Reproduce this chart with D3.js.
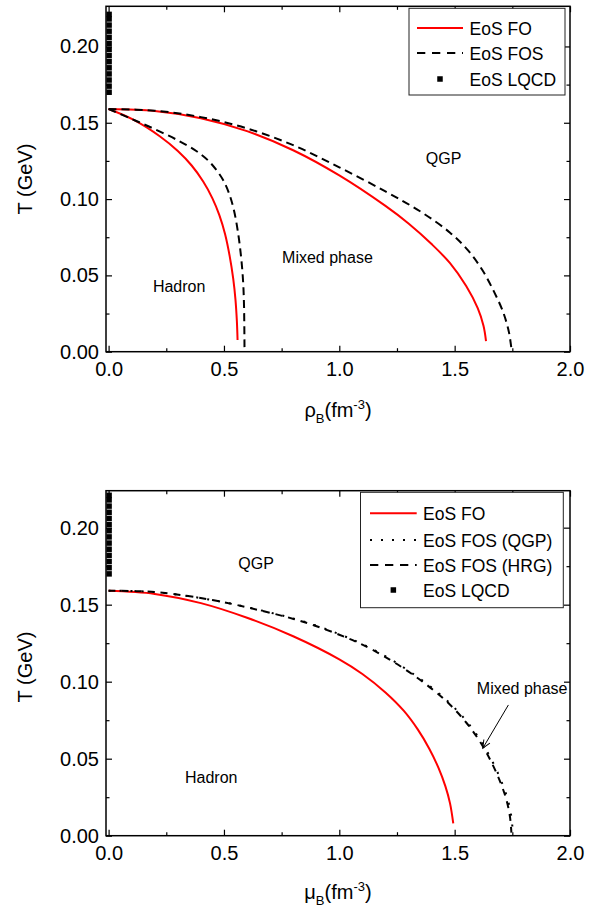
<!DOCTYPE html>
<html><head><meta charset="utf-8">
<script src="https://cdn.jsdelivr.net/npm/d3@7"></script>
<style>body{margin:0;background:#fff}svg{display:block}text{font-family:"Liberation Sans",Arial,sans-serif}</style>
</head><body>
<script>
// ---------- data ----------
const xTicks = [0, 0.5, 1.0, 1.5, 2.0];
const xMinor = [0.25, 0.75, 1.25, 1.75];
const yTicks = [0, 0.05, 0.10, 0.15, 0.20];
const yMinor = [0.025, 0.075, 0.125, 0.175];

// top panel: T vs rho_B
const topFO_inner_rho = [0, 0.107, 0.223, 0.30, 0.36, 0.41, 0.45, 0.48, 0.505, 0.525, 0.54, 0.55, 0.556, 0.559];
const topFO_inner_T   = [0.159, 0.152, 0.141, 0.1315, 0.122, 0.1115, 0.1005, 0.0895, 0.077, 0.0625, 0.048, 0.034, 0.020, 0.0077];
const topFOS_inner_rho = [0, 0.1, 0.2, 0.3, 0.38, 0.43, 0.47, 0.5, 0.525, 0.545, 0.562, 0.575, 0.583, 0.587, 0.589];
const topFOS_inner_T   = [0.159, 0.1525, 0.1458, 0.1385, 0.1315, 0.1255, 0.1185, 0.1115, 0.1025, 0.0915, 0.077, 0.061, 0.046, 0.030, 0.003];
const topFO_outer_rho = [0, 0.2, 0.4, 0.6, 0.8, 1.0, 1.2, 1.3, 1.4, 1.48, 1.55, 1.6, 1.625, 1.636];
const topFO_outer_T   = [0.159, 0.1577, 0.153, 0.1445, 0.132, 0.1155, 0.0955, 0.084, 0.0705, 0.058, 0.043, 0.0285, 0.017, 0.007];
const topFOS_outer_rho = [0, 0.2, 0.4, 0.6, 0.8, 1.0, 1.2, 1.35, 1.48, 1.56, 1.62, 1.67, 1.71, 1.735, 1.746];
const topFOS_outer_T   = [0.159, 0.1579, 0.1537, 0.1463, 0.1353, 0.1208, 0.105, 0.092, 0.078, 0.066, 0.0535, 0.0395, 0.026, 0.013, 0.002];

// bottom panel: T vs mu_B
const botFO_mu = [0, 0.2, 0.4, 0.6, 0.8, 1.0, 1.1, 1.2, 1.28, 1.34, 1.39, 1.43, 1.46, 1.48, 1.494];
const botFO_T  = [0.159, 0.157, 0.151, 0.1415, 0.1295, 0.1145, 0.105, 0.093, 0.081, 0.069, 0.0565, 0.044, 0.032, 0.021, 0.008];
const botHRG_mu = [0, 0.2, 0.45, 0.65, 0.83, 1.0, 1.1, 1.2, 1.3, 1.4, 1.48, 1.55, 1.61, 1.66, 1.70, 1.725, 1.74, 1.746];
const botHRG_T  = [0.159, 0.1582, 0.153, 0.1465, 0.1395, 0.1305, 0.124, 0.116, 0.1065, 0.0955, 0.085, 0.0735, 0.061, 0.0475, 0.034, 0.023, 0.012, 0.002];
const botQGP_mu = [0, 0.2, 0.45, 0.655, 0.836, 1.006, 1.106, 1.206, 1.306, 1.406, 1.486, 1.556, 1.616, 1.666, 1.706, 1.731, 1.746, 1.752];
const botQGP_T  = [0.159, 0.1582, 0.153, 0.1465, 0.1395, 0.1305, 0.124, 0.116, 0.1065, 0.0955, 0.085, 0.0735, 0.061, 0.0475, 0.034, 0.023, 0.012, 0.002];

// LQCD points (at zero density / chemical potential)
const lqcd_x = [0, 0, 0, 0, 0, 0, 0, 0, 0, 0, 0, 0, 0, 0];
const lqcd_T = [0.170, 0.174, 0.178, 0.182, 0.186, 0.190, 0.194, 0.198, 0.202, 0.206, 0.210, 0.214, 0.218, 0.221];

// labels
const topLegend = ["EoS FO", "EoS FOS", "EoS LQCD"];
const botLegend = ["EoS FO", "EoS FOS (QGP)", "EoS FOS (HRG)", "EoS LQCD"];
const topRegionLabels = ["QGP", "Mixed phase", "Hadron"];
const topRegionX = [1.375, 0.752, 0.192];
const topRegionT = [0.123, 0.058, 0.039];
const botRegionLabels = ["QGP", "Hadron", "Mixed phase"];
const botRegionX = [0.562, 0.331, 1.596];
const botRegionT = [0.173, 0.034, 0.0918];
const arrowFrom = [1.733, 0.0849];
const arrowTo = [1.622, 0.0568];

// ---------- drawing ----------
const W = 593, H = 909;
const svg = d3.select("body").append("svg").attr("width", W).attr("height", H);
svg.append("defs").append("marker")
  .attr("id", "arr").attr("viewBox", "-10 -5 12 10").attr("refX", 0).attr("refY", 0)
  .attr("markerWidth", 12).attr("markerHeight", 10).attr("markerUnits", "userSpaceOnUse")
  .attr("orient", "auto")
  .append("path").attr("d", "M-8,-3.5L0,0L-8,3.5").attr("fill", "none").attr("stroke", "#000").attr("stroke-width", 1);

const zip = (a, b) => a.map((v, i) => [v, b[i]]);

function panel(cfg) {
  const x = d3.scaleLinear().domain([-0.0113, 2.0]).range([106, 570]);
  const y = d3.scaleLinear().domain([0, cfg.ymax]).range([cfg.bottom, cfg.top]);
  const g = svg.append("g");
  const line = d3.line().x(d => x(d[0])).y(d => y(d[1])).curve(d3.curveCatmullRom.alpha(0.5));

  // curves
  cfg.curves.forEach(c => {
    g.append("path").attr("d", line(zip(c.xs, c.ts)))
      .attr("fill", "none").attr("stroke", c.color).attr("stroke-width", 2)
      .attr("stroke-dasharray", c.dash || null);
  });
  // LQCD squares
  const s = 5.5;
  g.selectAll("rect.lq").data(zip(lqcd_x, lqcd_T)).join("rect")
    .attr("x", d => x(d[0]) - s / 2 + 0.5).attr("y", d => y(d[1]) - s / 2)
    .attr("width", s).attr("height", s).attr("fill", "#000");

  // axes
  const styleAxis = sel => { sel.select(".domain").remove(); sel.selectAll("line").attr("stroke", "#000").attr("stroke-width", 1.2); };
  const b = g.append("g").attr("transform", `translate(0,${cfg.bottom})`)
    .call(d3.axisBottom(x).tickValues(xTicks).tickFormat(d3.format(".1f")).tickSize(-6).tickSizeOuter(0).tickPadding(10));
  b.call(styleAxis); b.selectAll("text").attr("font-size", 20).attr("font-family", "Liberation Sans, Arial, sans-serif").attr("fill", "#000");
  g.append("g").attr("transform", `translate(0,${cfg.bottom})`)
    .call(d3.axisBottom(x).tickValues(xMinor).tickFormat("").tickSize(-3.5).tickSizeOuter(0)).call(styleAxis);
  g.append("g").attr("transform", `translate(0,${cfg.top})`)
    .call(d3.axisTop(x).tickValues(xTicks).tickFormat("").tickSize(-6).tickSizeOuter(0)).call(styleAxis);
  g.append("g").attr("transform", `translate(0,${cfg.top})`)
    .call(d3.axisTop(x).tickValues(xMinor).tickFormat("").tickSize(-3.5).tickSizeOuter(0)).call(styleAxis);
  const l = g.append("g").attr("transform", `translate(106,0)`)
    .call(d3.axisLeft(y).tickValues(yTicks).tickFormat(d3.format(".2f")).tickSize(-6).tickSizeOuter(0).tickPadding(7));
  l.call(styleAxis); l.selectAll("text").attr("font-size", 20).attr("font-family", "Liberation Sans, Arial, sans-serif").attr("fill", "#000");
  g.append("g").attr("transform", `translate(106,0)`)
    .call(d3.axisLeft(y).tickValues(yMinor).tickFormat("").tickSize(-3.5).tickSizeOuter(0)).call(styleAxis);
  g.append("g").attr("transform", `translate(570,0)`)
    .call(d3.axisRight(y).tickValues(yTicks).tickFormat("").tickSize(-6).tickSizeOuter(0)).call(styleAxis);
  g.append("g").attr("transform", `translate(570,0)`)
    .call(d3.axisRight(y).tickValues(yMinor).tickFormat("").tickSize(-3.5).tickSizeOuter(0)).call(styleAxis);

  // frame
  g.append("rect").attr("x", 106).attr("y", cfg.top).attr("width", 570 - 106).attr("height", cfg.bottom - cfg.top)
    .attr("fill", "none").attr("stroke", "#000").attr("stroke-width", 1.5);

  // axis titles
  const xt = g.append("text").attr("x", 338).attr("y", cfg.bottom + cfg.xTitleOff).attr("text-anchor", "middle").attr("font-size", 20);
  xt.append("tspan").text(cfg.sym);
  xt.append("tspan").attr("font-size", 13).attr("dy", 6).text("B");
  xt.append("tspan").attr("dy", -6).text("(fm");
  xt.append("tspan").attr("font-size", 13).attr("dy", -8).text("-3");
  xt.append("tspan").attr("dy", 8).text(")");
  g.append("text").attr("transform", `translate(32,${cfg.yTitleY}) rotate(-90)`).attr("text-anchor", "middle")
    .attr("font-size", 20).text("T (GeV)");

  // region labels
  cfg.regions.labels.forEach((t, i) => {
    g.append("text").attr("x", x(cfg.regions.xs[i])).attr("y", y(cfg.regions.ts[i])).attr("font-size", 16).text(t);
  });
  if (cfg.arrow) {
    g.append("line").attr("x1", x(arrowFrom[0])).attr("y1", y(arrowFrom[1]))
      .attr("x2", x(arrowTo[0])).attr("y2", y(arrowTo[1]))
      .attr("stroke", "#000").attr("stroke-width", 1).attr("marker-end", "url(#arr)");
  }

  // legend
  const L = cfg.legend;
  const lg = g.append("g");
  lg.append("rect").attr("x", L.x0).attr("y", L.y0).attr("width", L.x1 - L.x0).attr("height", L.y1 - L.y0)
    .attr("fill", "#fff").attr("stroke", "#222").attr("stroke-width", 1);
  L.items.forEach((it, i) => {
    const yy = L.rows[i];
    if (it.type === "line") {
      lg.append("line").attr("x1", L.lx0).attr("x2", L.lx1).attr("y1", yy).attr("y2", yy)
        .attr("stroke", it.color).attr("stroke-width", 2).attr("stroke-dasharray", it.dash || null);
    } else {
      lg.append("rect").attr("x", (L.lx0 + L.lx1) / 2 - 2.75).attr("y", yy - 2.75).attr("width", 5.5).attr("height", 5.5).attr("fill", "#000");
    }
    lg.append("text").attr("x", L.tx).attr("y", yy + 6.5).attr("font-size", 17.5).text(it.label);
  });
}

panel({
  top: 6.3, bottom: 351.7, ymax: 0.2263, sym: "ρ", xTitleOff: 65, yTitleY: 179,
  curves: [
    { xs: topFO_inner_rho, ts: topFO_inner_T, color: "#ff0000" },
    { xs: topFO_outer_rho, ts: topFO_outer_T, color: "#ff0000" },
    { xs: topFOS_inner_rho, ts: topFOS_inner_T, color: "#000", dash: "8,5" },
    { xs: topFOS_outer_rho, ts: topFOS_outer_T, color: "#000", dash: "8,5" }
  ],
  regions: { labels: topRegionLabels, xs: topRegionX, ts: topRegionT },
  legend: {
    x0: 409, x1: 565, y0: 8.3, y1: 95, lx0: 417, lx1: 463, tx: 469.5, rows: [28, 53, 79],
    items: [
      { type: "line", color: "#ff0000", label: topLegend[0] },
      { type: "line", color: "#000", dash: "8.3,6.7", label: topLegend[1] },
      { type: "sq", label: topLegend[2] }
    ]
  }
});

panel({
  top: 490.7, bottom: 835.7, ymax: 0.224, sym: "μ", xTitleOff: 63, yTitleY: 667,
  curves: [
    { xs: botFO_mu, ts: botFO_T, color: "#ff0000" },
    { xs: botQGP_mu, ts: botQGP_T, color: "#000", dash: "2,9" },
    { xs: botHRG_mu, ts: botHRG_T, color: "#000", dash: "7,6" }
  ],
  regions: { labels: botRegionLabels, xs: botRegionX, ts: botRegionT },
  arrow: true,
  legend: {
    x0: 360.5, x1: 563.3, y0: 492.3, y1: 607.7, lx0: 370, lx1: 416.7, tx: 423, rows: [513.3, 540, 565, 590],
    items: [
      { type: "line", color: "#ff0000", label: botLegend[0] },
      { type: "line", color: "#000", dash: "2,9", label: botLegend[1] },
      { type: "line", color: "#000", dash: "8.3,6.7", label: botLegend[2] },
      { type: "sq", label: botLegend[3] }
    ]
  }
});
</script>
</body></html>
